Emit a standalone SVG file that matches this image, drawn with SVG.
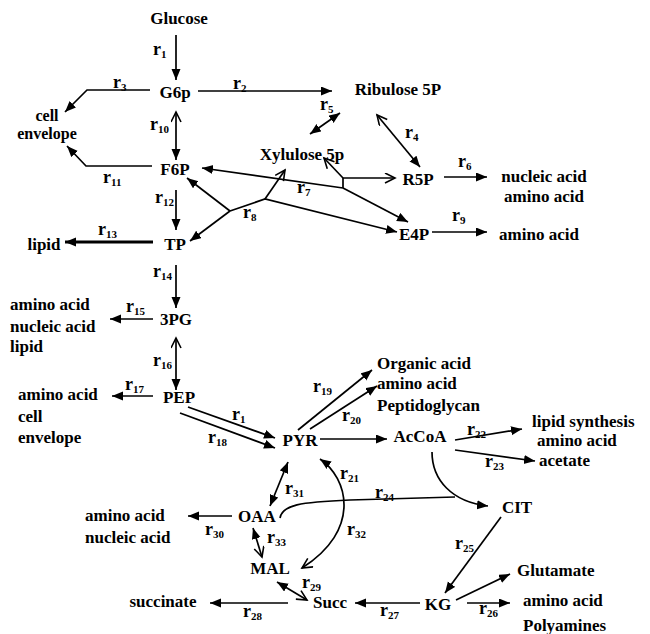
<svg xmlns="http://www.w3.org/2000/svg" width="650" height="634" viewBox="0 0 650 634" font-family="'Liberation Serif', 'DejaVu Serif', serif">
<style>
text{font-family:'Liberation Serif','DejaVu Serif',serif;font-weight:bold;fill:#000}
.n{font-size:17px}
.m{text-anchor:middle}
.r{font-size:18px}
.s{font-size:11px}
.c path{fill:none;stroke:#000;stroke-width:1.7}
.c .t{stroke-width:3}
.f{marker-end:url(#af)}
.fs{marker-start:url(#af)}
.o{marker-end:url(#ao)}
.os{marker-start:url(#ao)}
</style>
<defs>
<marker id="af" markerUnits="userSpaceOnUse" markerWidth="12" markerHeight="10" refX="11" refY="4.5" orient="auto-start-reverse"><path d="M0,0 L11,4.5 L0,9 z" fill="#000"/></marker>
<marker id="ao" markerUnits="userSpaceOnUse" markerWidth="14" markerHeight="12" refX="11" refY="5.5" orient="auto-start-reverse"><path d="M1,0.5 L11,5.5 L1,10.5" fill="none" stroke="#000" stroke-width="1.6"/></marker>
</defs>
<rect width="650" height="634" fill="#fff"/>
<g id="connectors" class="c">
<path class="f" d="M176,35 L176,80"/>
<path class="f" d="M198,91 L332,91"/>
<path class="f" d="M150,90 L87,90 L65,112"/>
<path class="os f" d="M176,112 L176,160"/>
<path class="f" d="M152,166 L86,166 L67,146"/>
<path class="f" d="M176,190 L176,230"/>
<path class="t f" d="M153,242 L65,242"/>
<path class="f" d="M230,211 L190,241"/>
<path class="f" d="M230,211 L187,178"/>
<path class="f" d="M230,211 L265,199 L397,232"/>
<path class="o" d="M265,199 L285,170"/>
<path class="f" d="M343,188 L202,168"/>
<path class="f" d="M343,188 L408,222"/>
<path class="o" d="M343,188 L343,178 L395,178"/>
<path class="o" d="M343,178 L324,158"/>
<path class="fs f" d="M310,134 L340,113"/>
<path class="os f" d="M377,115 L420,167"/>
<path class="f" d="M444,177 L487,177"/>
<path class="f" d="M432,232 L487,232"/>
<path class="f" d="M176,265 L176,308"/>
<path class="f" d="M153,319 L110,319"/>
<path class="os f" d="M176,338 L176,390"/>
<path class="f" d="M153,396 L112,396"/>
<path class="f" d="M188,407 L275,438"/>
<path class="f" d="M180,413 L275,448"/>
<path class="f" d="M298,430 L372,370"/>
<path class="f" d="M310,429 L377,386"/>
<path class="f" d="M320,439 L387,439"/>
<path class="f" d="M455,440 L522,429"/>
<path class="f" d="M455,450 L535,461"/>
<path class="f" d="M432,452 C432,480 452,502 488,506"/>
<path d="M280,518 C282,505 300,502 350,500 L455,497"/>
<path class="fs o" d="M320,459 C348,478 362,530 302,568"/>
<path class="fs f" d="M288,462 L270,506"/>
<path class="f" d="M232,516 L188,516"/>
<path class="fs o" d="M253,528 L262,557"/>
<path class="fs o" d="M277,582 L307,600"/>
<path class="f" d="M501,517 L445,593"/>
<path class="f" d="M456,600 L510,574"/>
<path class="f" d="M467,603 L510,603"/>
<path class="f" d="M420,603 L355,603"/>
<path class="f" d="M288,603 L210,603"/>
</g>
<g id="labels">
<text class="r" x="153" y="55">r<tspan class="s" dy="3">1</tspan></text>
<text class="r" x="233" y="89">r<tspan class="s" dy="3">2</tspan></text>
<text class="r" x="113" y="88">r<tspan class="s" dy="3">3</tspan></text>
<text class="r" x="150" y="130">r<tspan class="s" dy="3">10</tspan></text>
<text class="r" x="103" y="183">r<tspan class="s" dy="3">11</tspan></text>
<text class="r" x="155" y="203">r<tspan class="s" dy="3">12</tspan></text>
<text class="r" x="98" y="235">r<tspan class="s" dy="3">13</tspan></text>
<text class="r" x="243" y="218">r<tspan class="s" dy="3">8</tspan></text>
<text class="r" x="297" y="193">r<tspan class="s" dy="3">7</tspan></text>
<text class="r" x="320" y="110">r<tspan class="s" dy="3">5</tspan></text>
<text class="r" x="405" y="138">r<tspan class="s" dy="3">4</tspan></text>
<text class="r" x="458" y="167">r<tspan class="s" dy="3">6</tspan></text>
<text class="r" x="452" y="221">r<tspan class="s" dy="3">9</tspan></text>
<text class="r" x="153" y="277">r<tspan class="s" dy="3">14</tspan></text>
<text class="r" x="126" y="312">r<tspan class="s" dy="3">15</tspan></text>
<text class="r" x="153" y="366">r<tspan class="s" dy="3">16</tspan></text>
<text class="r" x="125" y="390">r<tspan class="s" dy="3">17</tspan></text>
<text class="r" x="232" y="420">r<tspan class="s" dy="3">1</tspan></text>
<text class="r" x="208" y="443">r<tspan class="s" dy="3">18</tspan></text>
<text class="r" x="313" y="392">r<tspan class="s" dy="3">19</tspan></text>
<text class="r" x="342" y="421">r<tspan class="s" dy="3">20</tspan></text>
<text class="r" x="467" y="435">r<tspan class="s" dy="3">22</tspan></text>
<text class="r" x="485" y="467">r<tspan class="s" dy="3">23</tspan></text>
<text class="r" x="375" y="498">r<tspan class="s" dy="3">24</tspan></text>
<text class="r" x="340" y="479">r<tspan class="s" dy="3">21</tspan></text>
<text class="r" x="347" y="535">r<tspan class="s" dy="3">32</tspan></text>
<text class="r" x="285" y="494">r<tspan class="s" dy="3">31</tspan></text>
<text class="r" x="205" y="535">r<tspan class="s" dy="3">30</tspan></text>
<text class="r" x="267" y="543">r<tspan class="s" dy="3">33</tspan></text>
<text class="r" x="302" y="588">r<tspan class="s" dy="3">29</tspan></text>
<text class="r" x="455" y="549">r<tspan class="s" dy="3">25</tspan></text>
<text class="r" x="479" y="614">r<tspan class="s" dy="3">26</tspan></text>
<text class="r" x="380" y="616">r<tspan class="s" dy="3">27</tspan></text>
<text class="r" x="243" y="617">r<tspan class="s" dy="3">28</tspan></text>
</g>
<g id="Glucose"><text class="n m" x="179" y="24">Glucose</text></g>
<g id="G6p"><text class="n m" x="175" y="98">G6p</text></g>
<g id="Ribulose5P"><text class="n m" x="398" y="95">Ribulose 5P</text></g>
<g id="cellEnvelope1"><text class="n m" x="47" y="121" font-size="16" style="font-size:16px">cell</text><text class="n m" x="47" y="139" style="font-size:16px">envelope</text></g>
<g id="F6P"><text class="n m" x="175" y="175">F6P</text></g>
<g id="Xylulose5p"><text class="n m" x="302" y="160">Xylulose 5p</text></g>
<g id="R5P"><text class="n m" x="418" y="185">R5P</text></g>
<g id="out6"><text class="n m" x="544" y="182">nucleic acid</text><text class="n m" x="544" y="202">amino acid</text></g>
<g id="TP"><text class="n m" x="175" y="250">TP</text></g>
<g id="lipid1"><text class="n m" x="44" y="250">lipid</text></g>
<g id="E4P"><text class="n m" x="414" y="240">E4P</text></g>
<g id="out9"><text class="n m" x="539" y="240">amino acid</text></g>
<g id="PG3"><text class="n m" x="176" y="325">3PG</text></g>
<g id="out15"><text class="n" x="10" y="310">amino acid</text><text class="n" x="10" y="332">nucleic acid</text><text class="n" x="10" y="352">lipid</text></g>
<g id="PEP"><text class="n m" x="179" y="403">PEP</text></g>
<g id="out17"><text class="n" x="18" y="400">amino acid</text><text class="n" x="18" y="422">cell</text><text class="n" x="18" y="443">envelope</text></g>
<g id="PYR"><text class="n m" x="300" y="446">PYR</text></g>
<g id="out19"><text class="n" x="377" y="369">Organic acid</text><text class="n" x="377" y="389">amino acid</text><text class="n" x="377" y="411">Peptidoglycan</text></g>
<g id="AcCoA"><text class="n m" x="420" y="442">AcCoA</text></g>
<g id="out22"><text class="n" x="532" y="427">lipid synthesis</text><text class="n" x="537" y="446">amino acid</text><text class="n" x="539" y="466">acetate</text></g>
<g id="CIT"><text class="n m" x="517" y="513">CIT</text></g>
<g id="OAA"><text class="n m" x="257" y="522">OAA</text></g>
<g id="out30"><text class="n" x="85" y="521">amino acid</text><text class="n" x="85" y="543">nucleic acid</text></g>
<g id="MAL"><text class="n m" x="270" y="574">MAL</text></g>
<g id="Succ"><text class="n m" x="330" y="608">Succ</text></g>
<g id="succinate"><text class="n m" x="163" y="607">succinate</text></g>
<g id="KG"><text class="n m" x="438" y="610">KG</text></g>
<g id="Glutamate"><text class="n" x="517" y="576">Glutamate</text></g>
<g id="out26"><text class="n" x="523" y="606">amino acid</text><text class="n" x="523" y="631">Polyamines</text></g>
</svg>
